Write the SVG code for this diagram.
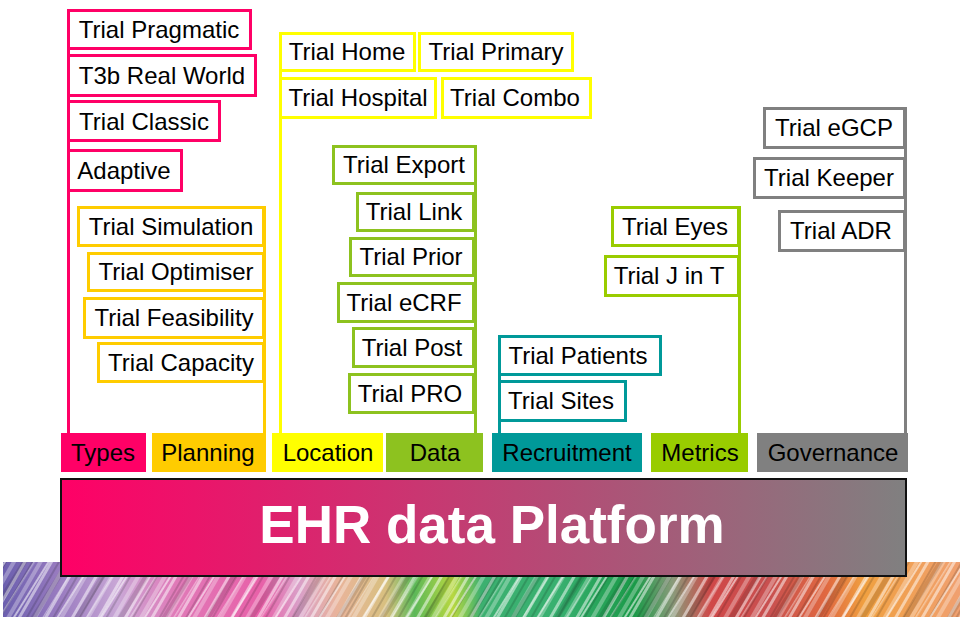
<svg xmlns="http://www.w3.org/2000/svg" width="960" height="617" viewBox="0 0 960 617">
<defs>
<style>
.t{font-family:"Liberation Sans",Arial,sans-serif;font-size:24px;fill:#000;text-anchor:middle}
.b{fill:#fff;stroke-width:3}
.pk{stroke:#FF0066}.or{stroke:#FFCC00}.ye{stroke:#FFFF00}.gr{stroke:#8DC21F}.te{stroke:#009999}.li{stroke:#99CC00}.gy{stroke:#808080}
.c{fill:none;stroke-width:3}
.title{font-family:"Liberation Sans",Arial,sans-serif;font-size:53px;font-weight:bold;fill:#fff;text-anchor:middle}
</style>
<linearGradient id="plat" x1="0" y1="0" x2="1" y2="0">
<stop offset="0" stop-color="#FF0066"/>
<stop offset="1" stop-color="#808080"/>
</linearGradient>
<linearGradient id="strip" x1="0" y1="0" x2="1" y2="0">
<stop offset="0" stop-color="#6b5fae"/>
<stop offset="0.06" stop-color="#9a7cc0"/>
<stop offset="0.12" stop-color="#c9a7d6"/>
<stop offset="0.18" stop-color="#e07ab8"/>
<stop offset="0.27" stop-color="#e860a8"/>
<stop offset="0.31" stop-color="#d9a0c8"/>
<stop offset="0.35" stop-color="#e9b49a"/>
<stop offset="0.40" stop-color="#d8c080"/>
<stop offset="0.43" stop-color="#5cb858"/>
<stop offset="0.47" stop-color="#b8d840"/>
<stop offset="0.50" stop-color="#3cb070"/>
<stop offset="0.58" stop-color="#38b070"/>
<stop offset="0.66" stop-color="#1a9a48"/>
<stop offset="0.70" stop-color="#8a9a7a"/>
<stop offset="0.74" stop-color="#d04848"/>
<stop offset="0.80" stop-color="#c85050"/>
<stop offset="0.86" stop-color="#e06840"/>
<stop offset="0.90" stop-color="#f0a040"/>
<stop offset="1" stop-color="#f0a070"/>
</linearGradient>
<pattern id="st1" width="23" height="200" patternUnits="userSpaceOnUse" patternTransform="rotate(30)">
<rect x="2" y="0" width="3" height="200" fill="#fff" opacity="0.5"/>
<rect x="9" y="0" width="2" height="200" fill="#000" opacity="0.15"/>
<rect x="15" y="0" width="4" height="200" fill="#fff" opacity="0.3"/>
</pattern>
<pattern id="st2" width="37" height="200" patternUnits="userSpaceOnUse" patternTransform="rotate(32)">
<rect x="5" y="0" width="2" height="200" fill="#fff" opacity="0.55"/>
<rect x="20" y="0" width="5" height="200" fill="#000" opacity="0.12"/>
<rect x="30" y="0" width="1.5" height="200" fill="#fff" opacity="0.4"/>
</pattern>
</defs>
<rect width="960" height="617" fill="#fff"/>

<g id="background-strip">
<rect x="3" y="562" width="957" height="55" fill="url(#strip)"/>
<rect x="3" y="562" width="957" height="55" fill="url(#st1)"/>
<rect x="3" y="562" width="957" height="55" fill="url(#st2)"/>
</g>

<g id="connectors">
<line class="c pk" x1="68.5" y1="9" x2="68.5" y2="434"/>
<line class="c or" x1="264.5" y1="206" x2="264.5" y2="434"/>
<line class="c ye" x1="280.5" y1="32" x2="280.5" y2="434"/>
<line class="c gr" x1="475.5" y1="145" x2="475.5" y2="434"/>
<line class="c te" x1="499.5" y1="335" x2="499.5" y2="434"/>
<line class="c li" x1="739.5" y1="206" x2="739.5" y2="434"/>
<line class="c gy" x1="905.5" y1="107" x2="905.5" y2="434"/>
</g>

<g id="types-items">
<g id="trial-pragmatic"><rect class="b pk" x="68.5" y="10.5" width="182" height="38"/><text class="t" x="159" y="38">Trial Pragmatic</text></g>
<g id="t3b-real-world"><rect class="b pk" x="68.5" y="55.5" width="187" height="40"/><text class="t" x="162" y="84">T3b Real World</text></g>
<g id="trial-classic"><rect class="b pk" x="68.5" y="101.5" width="151" height="39"/><text class="t" x="144" y="130">Trial Classic</text></g>
<g id="adaptive"><rect class="b pk" x="68.5" y="150.5" width="113" height="40"/><text class="t" x="124" y="179">Adaptive</text></g>
</g>

<g id="planning-items">
<g id="trial-simulation"><rect class="b or" x="78.5" y="207.5" width="185" height="38"/><text class="t" x="171" y="235">Trial Simulation</text></g>
<g id="trial-optimiser"><rect class="b or" x="88.5" y="253.5" width="175" height="37"/><text class="t" x="176" y="280">Trial Optimiser</text></g>
<g id="trial-feasibility"><rect class="b or" x="84.5" y="298.5" width="179" height="39"/><text class="t" x="174" y="326">Trial Feasibility</text></g>
<g id="trial-capacity"><rect class="b or" x="98.5" y="343.5" width="165" height="38"/><text class="t" x="181" y="371">Trial Capacity</text></g>
</g>

<g id="location-items">
<g id="trial-home"><rect class="b ye" x="280.5" y="33.5" width="134" height="37"/><text class="t" x="347" y="60">Trial Home</text></g>
<g id="trial-primary"><rect class="b ye" x="419.5" y="33.5" width="153" height="37"/><text class="t" x="496" y="60">Trial Primary</text></g>
<g id="trial-hospital"><rect class="b ye" x="280.5" y="78.5" width="155" height="39"/><text class="t" x="358" y="106">Trial Hospital</text></g>
<g id="trial-combo"><rect class="b ye" x="442.5" y="78.5" width="148" height="39"/><text class="t" x="515" y="106">Trial Combo</text></g>
</g>

<g id="data-items">
<g id="trial-export"><rect class="b gr" x="333.5" y="146.5" width="142" height="37"/><text class="t" x="404" y="173">Trial Export</text></g>
<g id="trial-link"><rect class="b gr" x="357.5" y="193.5" width="116" height="37"/><text class="t" x="414" y="220">Trial Link</text></g>
<g id="trial-prior"><rect class="b gr" x="350.5" y="238.5" width="123" height="37"/><text class="t" x="411" y="265">Trial Prior</text></g>
<g id="trial-ecrf"><rect class="b gr" x="338.5" y="283.5" width="135" height="38"/><text class="t" x="404" y="311">Trial eCRF</text></g>
<g id="trial-post"><rect class="b gr" x="353.5" y="328.5" width="120" height="38"/><text class="t" x="412" y="356">Trial Post</text></g>
<g id="trial-pro"><rect class="b gr" x="349.5" y="374.5" width="124" height="38"/><text class="t" x="410" y="402">Trial PRO</text></g>
</g>

<g id="recruitment-items">
<g id="trial-patients"><rect class="b te" x="499.5" y="336.5" width="161" height="38"/><text class="t" x="578" y="364">Trial Patients</text></g>
<g id="trial-sites"><rect class="b te" x="499.5" y="381.5" width="126" height="39"/><text class="t" x="561" y="409">Trial Sites</text></g>
</g>

<g id="metrics-items">
<g id="trial-eyes"><rect class="b li" x="612.5" y="207.5" width="126" height="38"/><text class="t" x="675" y="235">Trial Eyes</text></g>
<g id="trial-j-in-t"><rect class="b li" x="605.5" y="256.5" width="133" height="39"/><text class="t" x="669" y="284">Trial J in T</text></g>
</g>

<g id="governance-items">
<g id="trial-egcp"><rect class="b gy" x="764.5" y="108.5" width="140" height="39"/><text class="t" x="834" y="136">Trial eGCP</text></g>
<g id="trial-keeper"><rect class="b gy" x="754.5" y="158.5" width="150" height="39"/><text class="t" x="829" y="186">Trial Keeper</text></g>
<g id="trial-adr"><rect class="b gy" x="779.5" y="211.5" width="125" height="39"/><text class="t" x="841" y="239">Trial ADR</text></g>
</g>

<g id="categories">
<g id="cat-types"><rect x="61" y="433" width="85" height="39" fill="#FF0066"/><text class="t" x="103" y="461">Types</text></g>
<g id="cat-planning"><rect x="152" y="433" width="114" height="39" fill="#FFCC00"/><text class="t" x="208" y="461">Planning</text></g>
<g id="cat-location"><rect x="272" y="433" width="111" height="39" fill="#FFFF00"/><text class="t" x="328" y="461">Location</text></g>
<g id="cat-data"><rect x="386" y="433" width="97" height="39" fill="#8DC21F"/><text class="t" x="435" y="461">Data</text></g>
<g id="cat-recruitment"><rect x="492" y="433" width="150" height="39" fill="#009999"/><text class="t" x="567" y="461">Recruitment</text></g>
<g id="cat-metrics"><rect x="651" y="433" width="97" height="39" fill="#99CC00"/><text class="t" x="700" y="461">Metrics</text></g>
<g id="cat-governance"><rect x="757" y="433" width="151" height="39" fill="#808080"/><text class="t" x="833" y="461">Governance</text></g>
</g>

<g id="platform">
<rect x="61" y="479" width="845" height="97" fill="url(#plat)" stroke="#111" stroke-width="2"/>
<text class="title" x="492" y="543">EHR data Platform</text>
</g>
</svg>
